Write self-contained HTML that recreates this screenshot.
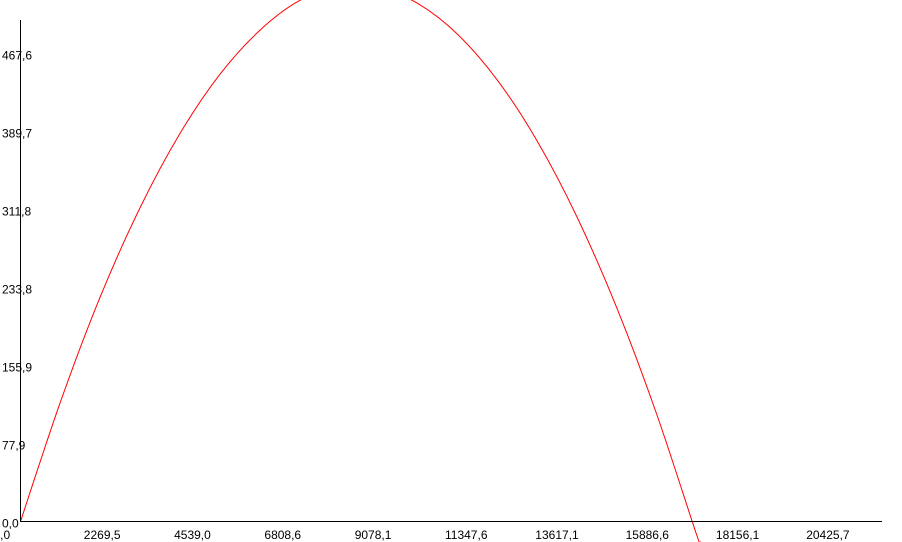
<!DOCTYPE html>
<html><head><meta charset="utf-8"><style>
html,body{margin:0;padding:0;background:#fff;width:902px;height:542px;overflow:hidden;}
svg{display:block;font-family:"Liberation Sans",Arial,sans-serif;font-size:12px;overflow:hidden;}
</style></head><body>
<svg id="chart" width="902" height="542" viewBox="0 0 902 542" xmlns="http://www.w3.org/2000/svg"><defs><clipPath id="frame"><rect x="0" y="0" width="902" height="542"/></clipPath></defs></svg>
<script>
const xTicks = [0, 2269.5, 4539.0, 6808.6, 9078.1, 11347.6, 13617.1, 15886.6, 18156.1, 20425.7];
const yTicks = [0, 77.9, 155.9, 233.8, 311.8, 389.7, 467.6];
const seriesX = [0,1000,2000,3000,4000,5000,6000,7000,8000,9000,10000,11000,12000,13000,14000,15000,16000,17000,17100];
const seriesY = [0,119,224,313,387,446,490,520,534,533,517,486,440,379,303,212,106,-14,-20];

const svg = document.getElementById('chart');
const NS = 'http://www.w3.org/2000/svg';
const x0 = 20.5, y0 = 521.5;
const xPerPx = 2269.5 / 90.3;
const yPerPx = 77.9 / 78;
function sx(v){ return x0 + v / xPerPx; }
function sy(v){ return y0 - v / yPerPx; }
function fmt(v){ return v.toFixed(1).replace('.', ','); }
function mk(tag, attrs){ const e = document.createElementNS(NS, tag); for (const k in attrs) e.setAttribute(k, attrs[k]); svg.appendChild(e); return e; }

const pts = seriesX.map((v,i)=>[sx(v), sy(seriesY[i])]);
let d = 'M' + pts[0][0] + ',' + pts[0][1];
for (let i=0;i<pts.length-1;i++){
  const p0 = pts[i-1]||pts[i], p1 = pts[i], p2 = pts[i+1], p3 = pts[i+2]||pts[i+1];
  const c1 = [p1[0]+(p2[0]-p0[0])/6, p1[1]+(p2[1]-p0[1])/6];
  const c2 = [p2[0]-(p3[0]-p1[0])/6, p2[1]-(p3[1]-p1[1])/6];
  d += ' C'+c1[0]+','+c1[1]+' '+c2[0]+','+c2[1]+' '+p2[0]+','+p2[1];
}
const curve = mk('path', {d: d, fill:'none', stroke:'#ff0000', 'stroke-width':1, 'clip-path':'url(#frame)'});



const yAxis = mk('line', {x1:x0, y1:20, x2:x0, y2:y0, stroke:'#000', 'stroke-width':1});


const xAxis = mk('line', {x1:20, y1:y0, x2:882, y2:y0, stroke:'#000', 'stroke-width':1});



yTicks.forEach(v=>{
  const t = mk('text', {x:2, y:sy(v)+6, fill:'#000'});
  t.textContent = fmt(v);
  
  
});
xTicks.forEach(v=>{
  const t = mk('text', {x:sx(v)-27, y:539, fill:'#000'});
  t.textContent = fmt(v);
  
  
});
</script>
</body></html>
